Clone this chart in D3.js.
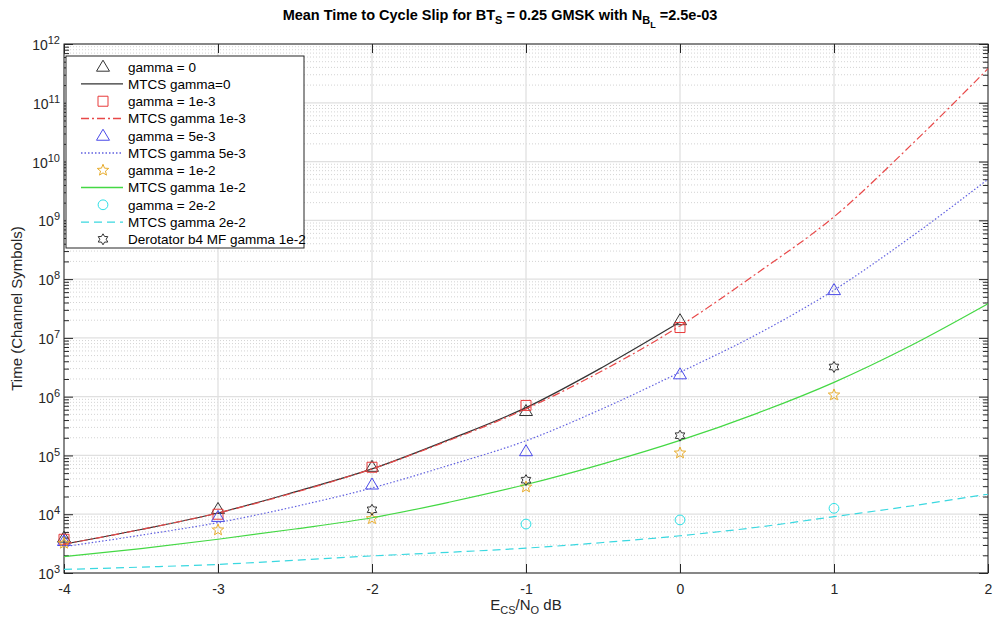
<!DOCTYPE html>
<html lang="en">
<head>
<meta charset="utf-8">
<title>Mean Time to Cycle Slip</title>
<style>
	body, html {
	  margin: 0;
	  background: #fff;
	  font-family: "Liberation Sans", Arial, Helvetica, sans-serif;
	}
	.tick text { font-size: 14px; fill: #262626; font-family: "Liberation Sans", Arial, sans-serif; }
	.tick line { stroke: #262626; }
</style>
</head>
<body>
<svg></svg>
<script src="https://d3js.org/d3.v7.min.js"></script>
<script>

	// x values of the curves (Ecs/No in dB)
	const ebnoFine = [-4, -3.5, -3, -2.5, -2, -1.5, -1, -0.5, 0, 0.5, 1, 1.5, 2];
	const ebnoPts = [-4, -3, -2, -1, 0, 1];

	// MTCS curves
	const mtcs0   = [3.1e3, 5.5e3, 1.05e4, 2.4e4, 5.9e4, 1.86e5, 6.5e5, 3.2e6, 1.86e7];
	const mtcs1e3 = [3.1e3, 5.5e3, 1.05e4, 2.35e4, 5.9e4, 1.8e5, 6.2e5, 2.8e6, 1.6e7, 1.26e8, 1.15e9, 1.9e10, 3.8e11];
	const mtcs5e3 = [2.8e3, 4.4e3, 7.2e3, 1.35e4, 2.8e4, 6.8e4, 1.78e5, 6.3e5, 2.6e6, 1.15e7, 6.5e7, 5.2e8, 5.0e9];
	const mtcs1e2 = [1.9e3, 2.6e3, 3.75e3, 5.6e3, 8.7e3, 1.6e4, 3.2e4, 7.2e4, 1.8e5, 5.2e5, 1.75e6, 7.4e6, 3.8e7];
	const mtcs2e2 = [1.15e3, 1.26e3, 1.4e3, 1.65e3, 1.95e3, 2.25e3, 2.65e3, 3.3e3, 4.3e3, 6.0e3, 9.1e3, 1.38e4, 2.2e4];

	// simulated points
	const sim0   = [4.0e3, 1.23e4, 6.4e4, 5.7e5, 2.0e7];
	const sim1e3 = [3.75e3, 1.0e4, 6.3e4, 7.1e5, 1.5e7];
	const sim5e3 = [3.5e3, 9.0e3, 3.2e4, 1.18e5, 2.4e6, 6.5e7];
	const sim1e2 = [3.2e3, 5.4e3, 8.4e3, 2.9e4, 1.1e5, 1.07e6];
	const sim2e2x = [-1, 0, 1];
	const sim2e2 = [6.8e3, 8.0e3, 1.26e4];
	const derotX = [-2, -1, 0, 1];
	const derot  = [1.19e4, 3.8e4, 2.17e5, 3.2e6];

	const xTicks = [-4, -3, -2, -1, 0, 1, 2];
	const yExps = [3, 4, 5, 6, 7, 8, 9, 10, 11, 12];

	const legendLabels = ["gamma = 0", "MTCS gamma=0", "gamma = 1e-3", "MTCS gamma 1e-3",
		"gamma = 5e-3", "MTCS gamma 5e-3", "gamma = 1e-2", "MTCS gamma 1e-2",
		"gamma = 2e-2", "MTCS gamma 2e-2", "Derotator b4 MF gamma 1e-2"];

	let w = 993, h = 628;
	let L = 64, R = 988, T = 44, B = 573;

	let svg = d3.select("svg").attr("width", w).attr("height", h);

	let x = d3.scaleLinear().domain([-4, 2]).range([L, R]);
	let y = d3.scaleLog().domain([1e3, 1e12]).range([B, T]);

	let majors = yExps.map(e => Math.pow(10, e));
	let minors = [];
	yExps.slice(0, -1).forEach(e => {
		for (let k = 2; k <= 9; k++) minors.push(k * Math.pow(10, e));
	});

	// grid
	let grid = svg.append("g");
	grid.selectAll(".mg").data(minors).enter().append("line")
		.attr("x1", L).attr("x2", R)
		.attr("y1", d => y(d)).attr("y2", d => y(d))
		.attr("stroke", "#c8c8c8").attr("stroke-width", 0.8)
		.attr("stroke-dasharray", "1,2");
	grid.selectAll(".Mg").data(majors).enter().append("line")
		.attr("x1", L).attr("x2", R)
		.attr("y1", d => y(d)).attr("y2", d => y(d))
		.attr("stroke", "#e0e0e0").attr("stroke-width", 1.3);
	grid.selectAll(".xg").data(xTicks).enter().append("line")
		.attr("x1", d => x(d)).attr("x2", d => x(d))
		.attr("y1", T).attr("y2", B)
		.attr("stroke", "#e0e0e0").attr("stroke-width", 1.3);

	// axes
	let ax = svg.append("g");
	let xb = ax.append("g").attr("transform", `translate(0,${B})`)
		.call(d3.axisBottom(x).tickValues(xTicks).tickSize(-9).tickPadding(11).tickFormat(d3.format("d")));
	ax.append("g").attr("transform", `translate(0,${T})`)
		.call(d3.axisTop(x).tickValues(xTicks).tickSize(-9).tickFormat(""));
	let yl = ax.append("g").attr("transform", `translate(${L},0)`)
		.call(d3.axisLeft(y).tickValues(majors).tickSize(-9).tickFormat(""));
	ax.append("g").attr("transform", `translate(${L},0)`)
		.call(d3.axisLeft(y).tickValues(minors).tickSize(-5).tickFormat(""));
	ax.append("g").attr("transform", `translate(${R},0)`)
		.call(d3.axisRight(y).tickValues(majors).tickSize(-9).tickFormat(""));
	ax.append("g").attr("transform", `translate(${R},0)`)
		.call(d3.axisRight(y).tickValues(minors).tickSize(-5).tickFormat(""));
	ax.selectAll(".domain").remove();
	xb.selectAll("text").text(d => d < 0 ? "-" + Math.abs(d) : d);

	// y tick labels with exponents
	yl.selectAll(".tick").append("text")
		.attr("x", -4).attr("dy", "0.4em")
		.attr("text-anchor", "end")
		.each(function (d) {
			let t = d3.select(this);
			t.append("tspan").text("10");
			t.append("tspan").attr("dy", "-0.55em").style("font-size", "11px").text(Math.round(Math.log10(d)));
		});

	ax.append("rect").attr("x", L).attr("y", T).attr("width", R - L).attr("height", B - T)
		.attr("fill", "none").attr("stroke", "#262626").attr("stroke-width", 1);

	// marker shapes
	function starPath(n, ro, ri) {
		let p = [];
		for (let i = 0; i < 2 * n; i++) {
			let a = -Math.PI / 2 + i * Math.PI / n;
			let r = i % 2 ? ri : ro;
			p.push([r * Math.cos(a), r * Math.sin(a)]);
		}
		return "M" + p.map(q => q[0].toFixed(2) + "," + q[1].toFixed(2)).join("L") + "Z";
	}
	const shapes = {
		tri: "M0,-6.5L6.5,4.5L-6.5,4.5Z",
		sq: "M-5,-5H5V5H-5Z",
		circ: d3.symbol().type(d3.symbolCircle).size(75)(),
		star: starPath(5, 6, 2.6),
		hex: starPath(6, 5.5, 3.2)
	};

	// series list built from the arrays
	const series = [
		{ type: "pts", xs: ebnoPts.slice(0, 5), ys: sim0, shape: "tri", color: "#333333" },
		{ type: "line", xs: ebnoFine.slice(0, 9), ys: mtcs0, color: "#333333", dash: null },
		{ type: "pts", xs: ebnoPts.slice(0, 5), ys: sim1e3, shape: "sq", color: "#e83a3a" },
		{ type: "line", xs: ebnoFine, ys: mtcs1e3, color: "#e84848", dash: "8,3,2,3" },
		{ type: "pts", xs: ebnoPts, ys: sim5e3, shape: "tri", color: "#4a4ae8" },
		{ type: "line", xs: ebnoFine, ys: mtcs5e3, color: "#6060e0", dash: "1.5,2" },
		{ type: "pts", xs: ebnoPts, ys: sim1e2, shape: "star", color: "#e8ac2c" },
		{ type: "line", xs: ebnoFine, ys: mtcs1e2, color: "#44d844", dash: null },
		{ type: "pts", xs: sim2e2x, ys: sim2e2, shape: "circ", color: "#2ee0e6" },
		{ type: "line", xs: ebnoFine, ys: mtcs2e2, color: "#3ad8e0", dash: "8,5" },
		{ type: "pts", xs: derotX, ys: derot, shape: "hex", color: "#333333" }
	];

	let plot = svg.append("g");
	let line = d3.line().x(d => x(d[0])).y(d => y(d[1])).curve(d3.curveMonotoneX);

	series.forEach(s => {
		let data = s.xs.map((v, i) => [v, s.ys[i]]);
		if (s.type === "line") {
			plot.append("path").datum(data)
				.attr("d", line)
				.attr("fill", "none")
				.attr("stroke", s.color)
				.attr("stroke-width", 1.2)
				.attr("stroke-dasharray", s.dash);
		} else {
			plot.selectAll(null).data(data).enter().append("path")
				.attr("transform", d => `translate(${x(d[0])},${y(d[1])})`)
				.attr("d", shapes[s.shape])
				.attr("fill", "none")
				.attr("stroke", s.color)
				.attr("stroke-width", 1);
		}
	});

	// legend
	let lg = svg.append("g");
	lg.append("rect").attr("x", 66).attr("y", 56).attr("width", 238).attr("height", 192)
		.attr("fill", "#fff").attr("stroke", "#262626").attr("stroke-width", 1);
	series.forEach((s, i) => {
		let yy = 66.7 + i * 17.26;
		if (s.type === "line") {
			lg.append("line").attr("x1", 81).attr("x2", 123).attr("y1", yy).attr("y2", yy)
				.attr("stroke", s.color).attr("stroke-width", 1.3)
				.attr("stroke-dasharray", s.dash);
		} else {
			lg.append("path").attr("transform", `translate(103,${yy})`)
				.attr("d", shapes[s.shape]).attr("fill", "none")
				.attr("stroke", s.color).attr("stroke-width", 1);
		}
		lg.append("text").attr("x", 128).attr("y", yy).attr("dy", "0.36em")
			.style("font-size", "13.5px").style("fill", "#000")
			.text(legendLabels[i]);
	});

	// title
	let title = svg.append("text").attr("x", 500).attr("y", 20)
		.attr("text-anchor", "middle")
		.style("font-size", "14.5px").style("font-weight", "bold").style("fill", "#000");
	title.append("tspan").text("Mean Time to Cycle Slip for BT");
	title.append("tspan").attr("dy", 4).style("font-size", "11px").text("S");
	title.append("tspan").attr("dy", -4).text(" = 0.25 GMSK with N");
	title.append("tspan").attr("dy", 4).style("font-size", "11px").text("B");
	title.append("tspan").attr("dy", 4).style("font-size", "9px").text("L");
	title.append("tspan").attr("dy", -8).text(" =2.5e-03");

	// axis labels
	let xl = svg.append("text").attr("x", 526).attr("y", 610)
		.attr("text-anchor", "middle").style("font-size", "15px").style("fill", "#262626");
	xl.append("tspan").text("E");
	xl.append("tspan").attr("dy", 4).style("font-size", "11px").text("CS");
	xl.append("tspan").attr("dy", -4).text("/N");
	xl.append("tspan").attr("dy", 4).style("font-size", "11px").text("O");
	xl.append("tspan").attr("dy", -4).text(" dB");

	svg.append("text")
		.attr("transform", `translate(22,${(T + B) / 2}) rotate(-90)`)
		.attr("text-anchor", "middle")
		.style("font-size", "15px").style("fill", "#262626")
		.text("Time (Channel Symbols)");
</script>
</body>
</html>
